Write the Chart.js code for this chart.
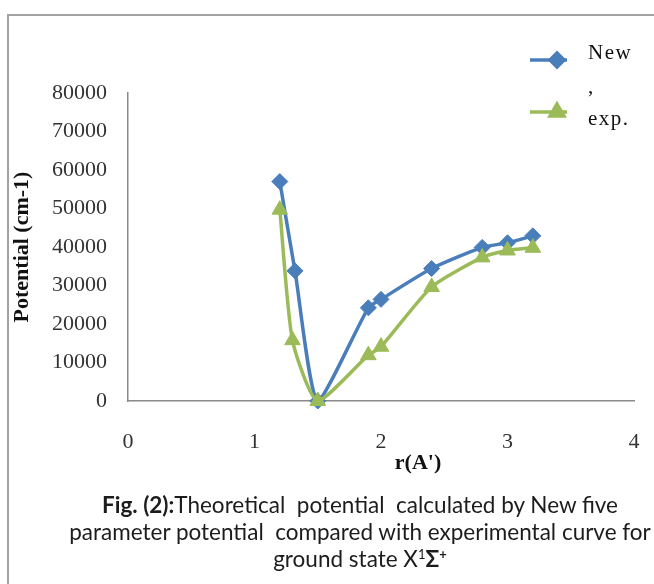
<!DOCTYPE html>
<html>
<head>
<meta charset="utf-8">
<script src="https://cdn.jsdelivr.net/npm/chart.js@4.4.1/dist/chart.umd.min.js"></script>
<style>
  html, body { margin: 0; padding: 0; background: #fff; }
  #wrap { position: relative; width: 654px; height: 584px; overflow: hidden; }
  #frame { position: absolute; left: 7px; top: 14px; width: 660px; height: 600px;
           border-left: 2px solid #a2a2a2; border-top: 2px solid #a2a2a2; }
  #potencial { position: absolute; left: 0; top: 0; }
  #caption { position: absolute; left: 10px; width: 700px; top: 491px; text-align: center;
             font-family: Lato, sans-serif; font-size: 22.5px; line-height: 27px; color: #1c1c1c;
             white-space: nowrap; }
  #caption sup { font-size: 13px; line-height: 0; vertical-align: 8px; }
</style>
</head>
<body>
<div id="wrap">
  <div id="frame"></div>
  <canvas id="potencial" width="654" height="584"></canvas>
  <div id="caption">
    <b>Fig. (2):</b>Theoretical&nbsp; potential&nbsp; calculated by New five<br>
    parameter potential&nbsp; compared with experimental curve for<br>
    ground state X<sup>1</sup><b>Σ<sup>+</sup></b>
  </div>
</div>
<script>
// r (A') and potential (cm-1)
const r_new = [1.2, 1.32, 1.5, 1.9, 2.0, 2.4, 2.8, 3.0, 3.2];
const v_new = [57000, 33800, 0, 24200, 26400, 34400, 39900, 41100, 42900];
const r_exp = [1.2, 1.3, 1.5, 1.9, 2.0, 2.4, 2.8, 3.0, 3.2];
const v_exp = [49700, 15800, 0, 11900, 14100, 29600, 37300, 39100, 39800];
const etiquetas = ["New ,", "exp."];
const x_ticks = [0, 1, 2, 3, 4];
const titulo_x = "r(A')";

const azul = "#4a7ebb";
const verde = "#9bbb59";

function puntos(xs, ys) {
  return xs.map((x, i) => ({ x: x, y: ys[i] }));
}

// leyenda y titulo del eje x dibujados a mano para imitar los de Excel
const plugin_leyenda = {
  id: "leyendaExcel",
  afterDraw: (chart) => {
    const ctx = chart.ctx;
    const filas = [
      { y: 60, ty: 59 },
      { y: 112, ty: 125 },
    ];
    ctx.save();
    chart.data.datasets.forEach((ds, i) => {
      const f = filas[i];
      ctx.strokeStyle = ds.borderColor;
      ctx.lineWidth = 3.5;
      ctx.beginPath();
      ctx.moveTo(530, f.y);
      ctx.lineTo(567, f.y);
      ctx.stroke();
      ctx.fillStyle = ds.backgroundColor;
      Chart.helpers.drawPoint(ctx, {
        pointStyle: ds.pointStyle,
        radius: ds.pointRadius - 1,
        rotation: 0,
        borderWidth: 1,
      }, 557, f.y);
      ctx.fill();
      ctx.fillStyle = "#111";
      ctx.font = "21px 'Liberation Serif'";
      ctx.letterSpacing = "1.5px";
      ctx.textBaseline = "alphabetic";
      ds.label.split(" ").forEach((linea, j) => {
        ctx.fillText(linea, 588, f.ty + j * 34);
      });
    });
    ctx.letterSpacing = "0px";
    ctx.font = "bold 22px 'Liberation Serif'";
    ctx.textAlign = "center";
    ctx.textBaseline = "middle";
    ctx.fillText(titulo_x, 418, 463);
    ctx.restore();
  },
};

const ctx = document.getElementById("potencial").getContext("2d");
const chart_potencial = new Chart(ctx, {
  type: "line",
  data: {
    datasets: [
      {
        label: etiquetas[0],
        data: puntos(r_new, v_new),
        borderColor: azul,
        backgroundColor: azul,
        borderWidth: 3.5,
        pointStyle: "rectRot",
        pointRadius: 8,
        pointBorderWidth: 1,
        tension: 0.2,
        clip: false,
        order: 1,
      },
      {
        label: etiquetas[1],
        data: puntos(r_exp, v_exp),
        borderColor: verde,
        backgroundColor: verde,
        borderWidth: 3.5,
        pointStyle: "triangle",
        pointRadius: 9,
        pointBorderWidth: 1,
        tension: 0.2,
        clip: false,
        order: 0,
      },
    ],
  },
  options: {
    responsive: false,
    animation: false,
    layout: {
      padding: { left: 0, right: 20, top: 93, bottom: 104 },
    },
    plugins: {
      legend: { display: false },
      tooltip: { enabled: false },
    },
    scales: {
      x: {
        type: "linear",
        min: 0,
        max: 4,
        afterBuildTicks: (scale) => {
          scale.ticks = x_ticks.map((v) => ({ value: v }));
        },
        afterFit: (scale) => {
          scale.height = 79;
          scale.paddingLeft = 0;
          scale.paddingRight = 0;
        },
        grid: { display: false, drawTicks: false },
        border: { display: true, color: "#8a8a8a", width: 1.5 },
        ticks: {
          padding: 28,
          color: "#333",
          font: { family: "'Liberation Serif'", size: 22 },
        },
      },
      y: {
        min: 0,
        max: 80000,
        afterFit: (scale) => {
          scale.width = 128;
        },
        grid: { display: false, drawTicks: false },
        border: { display: true, color: "#8a8a8a", width: 1.5 },
        ticks: {
          stepSize: 10000,
          padding: 21,
          color: "#333",
          font: { family: "'Liberation Serif'", size: 22 },
          callback: (v) => String(v),
        },
        title: {
          display: true,
          text: "Potential (cm-1)",
          color: "#111",
          padding: { top: 9, bottom: 0 },
          font: { family: "'Liberation Serif'", size: 22, weight: "bold" },
        },
      },
    },
  },
  plugins: [plugin_leyenda],
});
</script>
</body>
</html>
